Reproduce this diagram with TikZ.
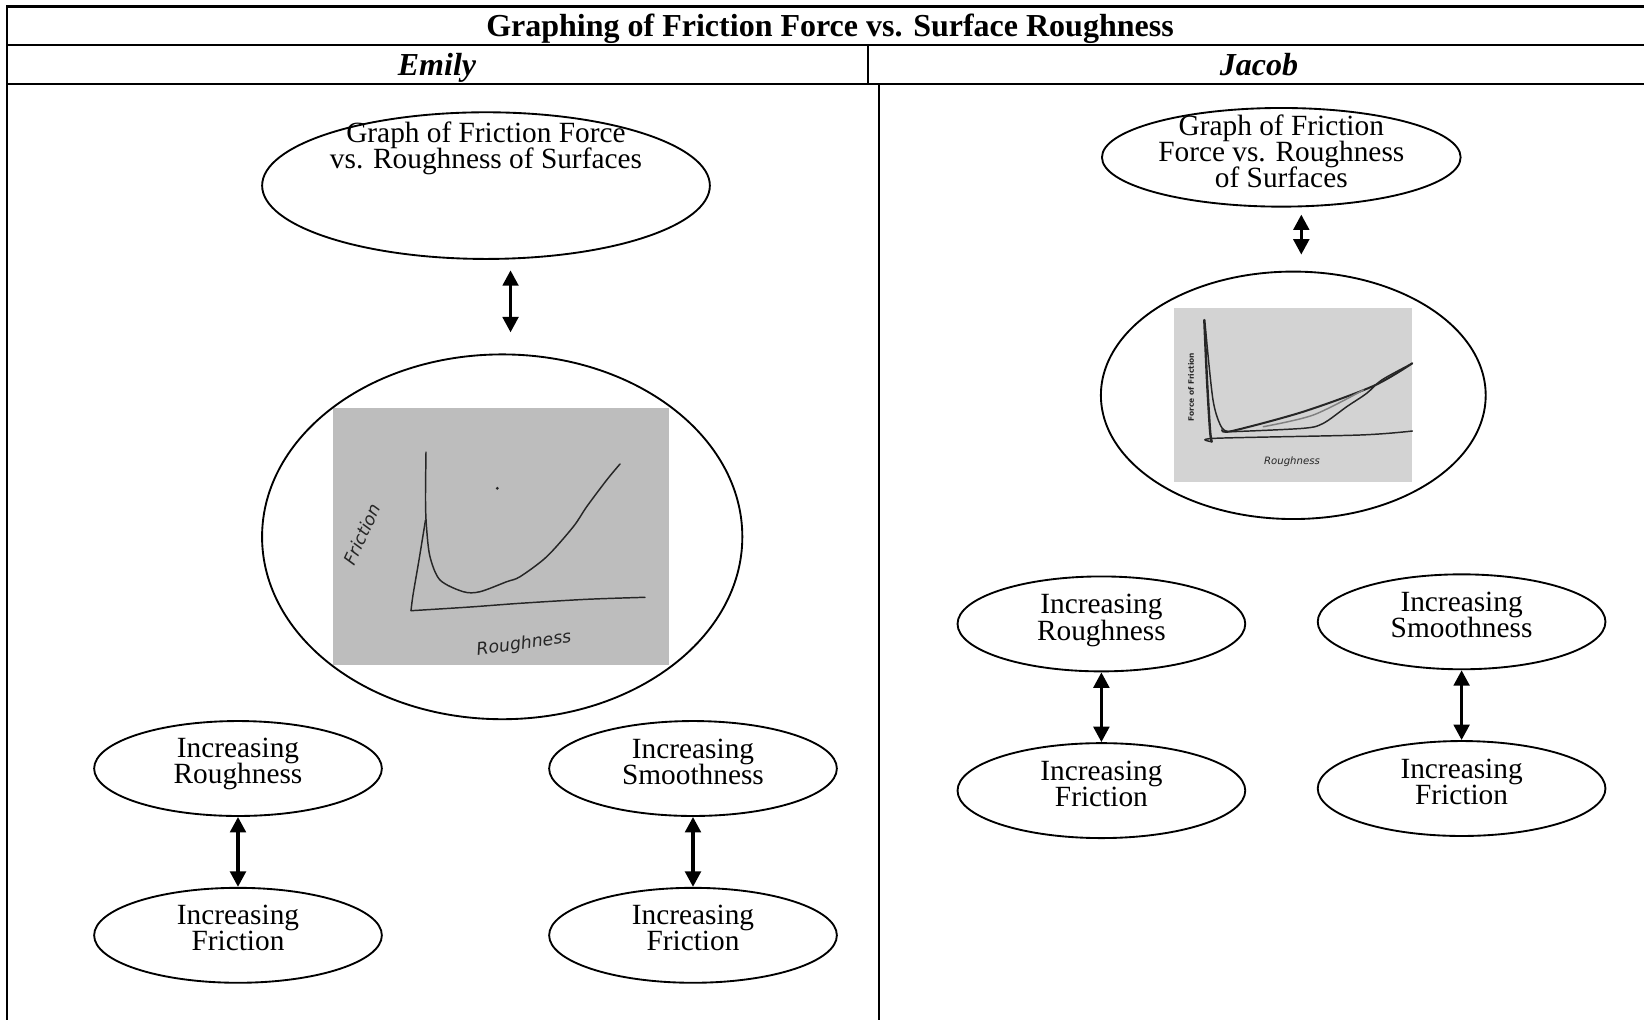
\documentclass[tikz,border=0pt]{standalone}
\usepackage{fontspec}
\setmainfont{Liberation Serif}
\setsansfont{DejaVu Sans}
\definecolor{sketchgrey}{HTML}{BDBDBD}
\definecolor{sketchgreyb}{HTML}{D3D3D3}
\definecolor{pencil}{HTML}{262626}
\usetikzlibrary{arrows.meta, shapes.geometric, calc}
\newcommand{\tightlines}{\lineskiplimit=-20pt\relax}

\begin{document}
\begin{tikzpicture}[x=0.375pt, y=-0.375pt,
    bubble/.style={draw, ellipse, line width=0.7pt, inner sep=0pt},
    smallbubble/.style={bubble, minimum width=107.9pt, minimum height=35.6pt},
    lbl/.style={align=center, font=\fontsize{11}{9.8}\selectfont\tightlines},
    head/.style={anchor=base, font=\bfseries\itshape\fontsize{12}{14}\selectfont},
    biarrow/.style={{Triangle[width=5.8pt,length=5.8pt]}-{Triangle[width=5.8pt,length=5.8pt]}, line width=1.35pt},
    rule/.style={line width=0.8pt},
    pencilline/.style={pencil, line width=0.55pt, line cap=round, line join=round},
    hand/.style={pencil, inner sep=0pt, font=\sffamily\itshape\fontsize{6.5}{6.5}\selectfont}]
  \useasboundingbox (0,0) rectangle (1644,1019);
  \clip (0,0) rectangle (1644,1019);
  % table frame
  \draw[rule] (7,1030) -- (7,6.5) -- (1660,6.5);
  \draw[rule] (7,45) -- (1660,45);
  \draw[rule] (7,84) -- (1660,84);
  \draw[rule] (868,45) -- (868,84);
  \draw[rule] (879,84) -- (879,1030);
  \node[anchor=base, font=\bfseries\fontsize{12}{14}\selectfont] (title) at (830,36.5) {Graphing of Friction Force vs. Surface Roughness};
  \node[head] (emily) at (437,75.7) {Emily};
  \node[head] (jacob) at (1259,75.7) {Jacob};

  % Emily: graph sketch
  \fill[sketchgrey] (333.4,407.9) rectangle (668.9,664.7);
  \draw[pencilline, smooth] plot coordinates {(426,452) (425.5,500) (426.5,527) (430,556.7) (440,580)
    (463.3,591.7) (480,591.7) (506.7,581.7) (520,576.7) (546.7,556.7) (573.3,526.7) (586.7,506.7) (606.7,480) (620,464)};
  \draw[pencilline, smooth] plot coordinates {(425.5,520) (419,560) (413,595) (411,610.7)};
  \draw[pencilline, smooth] plot coordinates {(411,610.7) (470,607) (520,603.3) (586.7,599.3) (645,597.3)};
  \fill[pencil] (497.3,488.3) circle (0.6pt);
  \node[hand, rotate=65] (fricE) at (362,534) {Friction};
  \node[hand, rotate=8] (roughE) at (524,644) {Roughness};

  % Emily: map
  \node[bubble, minimum width=167.9pt, minimum height=55pt,
    label={[lbl, yshift=14pt]center:Graph of Friction Force\\vs. Roughness of Surfaces}] (graphE) at (486,185.6) {};
  \node[bubble, minimum width=180.1pt, minimum height=136.8pt] (sketchE) at (502.2,536.8) {};
  \node[smallbubble, label={[lbl, yshift=1.6pt]center:Increasing\\Roughness}] (incRoughE) at (238,768.5) {};
  \node[smallbubble, label={[lbl, yshift=2.8pt]center:Increasing\\Friction}] (incFricE) at (238,935.3) {};
  \node[smallbubble, label={[lbl, yshift=2.6pt]center:Increasing\\Smoothness}] (incSmoothE) at (693,768.5) {};
  \node[smallbubble, label={[lbl, yshift=2.8pt]center:Increasing\\Friction}] (incFricEb) at (693,935.3) {};
  \draw[biarrow, shorten <=3.9pt, shorten >=7.9pt] ([xshift=9.2pt]graphE.south) -- ([xshift=9.2pt]graphE.south |- sketchE.north);
  \draw[biarrow] (incRoughE) -- (incFricE);
  \draw[biarrow] (incSmoothE) -- (incFricEb);

  % Jacob: graph sketch
  \fill[sketchgreyb] (1174.3,308.3) rectangle (1412.3,482.3);
  \draw[pencilline, line width=0.9pt, smooth] plot coordinates {(1204.3,320) (1207,380) (1210,430) (1211.7,441.7)};
  \draw[pencilline, smooth] plot coordinates {(1205,323) (1213,400) (1222,428) (1231.7,431.7)};
  \draw[pencilline, line width=0.75pt, smooth] plot coordinates {(1222,430) (1232,431) (1303.3,411.7) (1373.3,386) (1412.3,363.3)};
  \draw[pencilline, smooth] plot coordinates {(1231.7,431.7) (1303.3,428.3) (1323.3,423.3) (1346.7,406.7) (1366.7,393.3) (1381.7,380) (1412.3,363.3)};
  \draw[pencilline, gray, smooth] plot coordinates {(1263.3,426.7) (1313.3,415) (1363.3,390)};
  \draw[pencilline, smooth] plot coordinates {(1211.7,441.7) (1215,438.3) (1360,435) (1412.3,431)};
  \node[hand, font=\sffamily\bfseries\fontsize{2.8}{2.8}\selectfont, rotate=90] (forceJ) at (1191,387) {Force of Friction};
  \node[hand, font=\sffamily\itshape\fontsize{3.8}{3.8}\selectfont] (roughJ) at (1292,462) {Roughness};

  % Jacob: map
  \node[bubble, minimum width=134.5pt, minimum height=37pt,
    label={[lbl, yshift=2.2pt]center:Graph of Friction\\Force vs. Roughness\\of Surfaces}] (graphJ) at (1281.3,157.3) {};
  \node[bubble, minimum width=144.3pt, minimum height=92.8pt] (sketchJ) at (1293.3,395.3) {};
  \node[smallbubble, label={[lbl, yshift=1.3pt]center:Increasing\\Roughness}] (incRoughJ) at (1101.4,623.9) {};
  \node[smallbubble, label={[lbl, yshift=2.4pt]center:Increasing\\Friction}] (incFricJ) at (1101.4,790.6) {};
  \node[smallbubble, label={[lbl, yshift=2.5pt]center:Increasing\\Smoothness}] (incSmoothJ) at (1461.6,621.8) {};
  \node[smallbubble, label={[lbl, yshift=2.4pt]center:Increasing\\Friction}] (incFricJb) at (1461.6,788.5) {};
  \draw[biarrow, shorten <=2.6pt, shorten >=6pt] ([xshift=7.5pt]graphJ.south) -- ([xshift=7.5pt]graphJ.south |- sketchJ.north);
  \draw[biarrow] (incRoughJ) -- (incFricJ);
  \draw[biarrow] (incSmoothJ) -- (incFricJb);
\end{tikzpicture}
\end{document}
